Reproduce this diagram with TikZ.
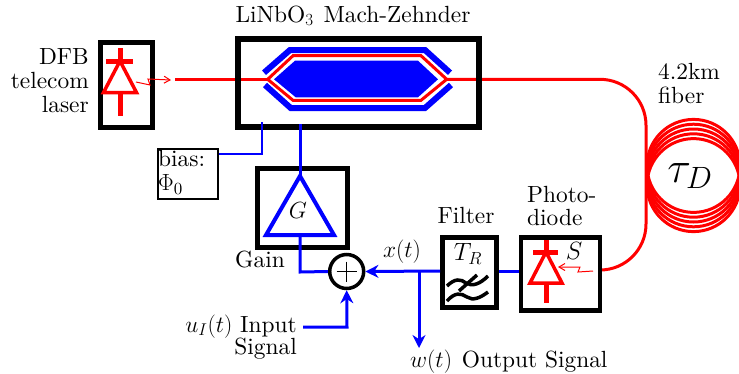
\RequirePackage{fix-cm}
\documentclass[tikz,border=0pt]{standalone}
\usepackage{fontspec}
\setmainfont{lmroman10-regular.otf}
\DeclareMathSizes{23.4}{23.4}{17}{13}
\usetikzlibrary{arrows.meta}
\tikzset{
  boxk/.style={draw=black,line width=4.5pt,fill=none},
  rl/.style={draw=red,line width=3pt},
  bl/.style={draw=blue,line width=3pt},
  lab/.style={inner sep=0pt,font=\fontsize{23.4}{24}\selectfont},
  squig/.style={draw=red,line width=1pt,-{Straight Barb[length=6pt,width=7pt]}},
  blarrow/.style={bl,-{Stealth[length=13pt,width=13pt]}},
}
\begin{document}
\begin{tikzpicture}[x=1pt,y=-1pt]
\useasboundingbox (0,0) rectangle (739,373);
% coil
\foreach \d in {-9.6,-4.8,0,4.8,9.6}{\draw[red,line width=3pt] (693.5,175.5+\d) circle[radius=46.5];}
% fibre
\coordinate (laserout) at (175,79.3);
\coordinate (mzin) at (267.7,79.3);
\coordinate (mzout) at (446.7,79.3);
\coordinate (pdin) at (599,270);
\draw[rl] (laserout) -- (mzin);
\draw[rl] (mzout) -- (600,79.3) arc[start angle=-90,end angle=0,radius=46] -- (646,224) arc[start angle=0,end angle=90,radius=46] -- (pdin);
% Mach-Zehnder
\node[boxk,line width=6pt,minimum width=241pt,minimum height=88.5pt,anchor=north west,inner sep=0pt] (mz) at (234.5,35.5) {};
\fill[blue] (274,79.3) -- (295,60.7) -- (418,60.7) -- (438,79.3) -- (418,97.3) -- (295.7,97.3) -- cycle;
\draw[draw=blue,line width=6pt] (264,72.7) -- (290,50) -- (425,50) -- (450,72.7);
\draw[draw=blue,line width=6pt] (265,85) -- (290.7,108) -- (425,108) -- (451,85);
\draw[rl] (mzin) -- (293,55.7) -- (421,55.7) -- (mzout) -- (421,100.3) -- (293,100.3) -- cycle;
% laser
\node[boxk,line width=5pt,minimum width=52.5pt,minimum height=84.5pt,anchor=north west,inner sep=0pt] (laser) at (97.5,40) {};
\draw[rl,line width=5pt] (120,48) -- (120,61) (106,61) -- (133,61);
\draw[rl,line width=3.5pt,line join=miter] (120,61) -- (136.5,92.5) -- (103.5,92.5) -- cycle;
\draw[rl,line width=5pt] (120,93) -- (120,116);
\draw[squig] (136,82) -- (150,85) -- (148,79) -- (171,80);
% gain
\node[boxk,minimum width=89.7pt,minimum height=79pt,anchor=north west,inner sep=0pt] (gain) at (255.3,166) {};
\node[lab] (gainsym) at (298,210) {$G$};
\coordinate (gaintop) at (300,176);
\coordinate (gainbot) at (300,235);
\draw[draw=blue,line width=4pt] (gaintop) -- (334,235) -- (266,235) -- cycle;
% sum
\node[circle,draw=black,line width=3.5pt,minimum size=34pt,inner sep=0pt] (sum) at (346.7,271.5) {};
\draw[black,line width=1pt] (sum.center) ++(-10,0) -- ++(20,0) (sum.center) ++(0,-10) -- ++(0,20);
\draw[bl] (300,124) -- (gaintop);
\draw[bl] (gainbot) -- (300,272) -- (sum.west);
% bias
\node[draw=black,line width=2pt,minimum width=60pt,minimum height=50pt,anchor=north west,inner sep=0pt] (bias) at (157,147.5) {};
\node[lab,anchor=west,align=left] (biastext) at (158,172.5) {bias:\\$\Phi_{\mathrm{0}}$};
\draw[draw=blue,line width=2pt] (bias.east |- 0,154) -- (262,154) -- (262,122);
% filter
\node[boxk,minimum width=54pt,minimum height=70pt,anchor=north west,inner sep=0pt] (filter) at (440,235) {};
\node[inner sep=0pt,font=\fontsize{25}{28}\selectfont] (tr) at (468,254) {$T_R$};
\draw[black,line width=3.5pt] (447,286) .. controls (455,278) and (461,279) .. (466,283) .. controls (472,287) and (480,284) .. (488,276);
\draw[black,line width=3.5pt] (447,301) .. controls (455,292) and (461,293) .. (467,297) .. controls (473,301) and (480,298) .. (488,292);
\draw[black,line width=3.5pt] (459,291) -- (477,275);
% photodiode
\node[boxk,minimum width=79pt,minimum height=73pt,anchor=north west,inner sep=0pt] (pd) at (518.5,235) {};
\draw[rl,line width=5pt] (546,240) -- (546,252) (533,252) -- (558,252);
\draw[rl,line width=3.5pt] (546,252) -- (562,283) -- (530,283) -- cycle;
\draw[rl,line width=5pt] (546,283) -- (546,303);
\draw[squig] (593,271) -- (578,272) -- (580,267) -- (558,267);
\node[inner sep=0pt,font=\fontsize{25}{28}\selectfont] (s) at (574,251) {$S$};
% signal lines
\draw[bl] (filter.east |- 0,271) -- (pd.west |- 0,271);
\draw[blarrow] (filter.west |- 0,271) -- (sum.east);
\coordinate (branch) at (419,271);
\draw[blarrow] (branch) -- (419,348);
\coordinate (uin) at (303,327);
\draw[blarrow] (uin) -- (347,327) -- (sum.south);
% labels
\node[lab,align=right,anchor=east] (l1) at (89,81) {DFB\\telecom\\laser};
\node[lab,anchor=south] (l2) at (353,26) {LiNbO$_3$\hspace{2pt} Mach-Zehnder};
\node[lab,anchor=base] (l3) at (260,267) {Gain};
\node[lab,anchor=base] (l4) at (466,223) {Filter};
\node[lab,anchor=base west] (l5) at (527,202) {Photo-};
\node[lab,anchor=base west] (l6) at (527,225) {diode};
\node[lab,anchor=base] (l7) at (402,257) {$x(t)$};
\node[lab,anchor=base east] (l8) at (297,332) {$u_I(t)$ Input};
\node[lab,anchor=base east] (l9) at (297,354) {Signal};
\node[lab,anchor=base west] (l10) at (410,367) {$w(t)$\hspace{2pt} Output Signal};
\node[lab,anchor=base west] (l11) at (658,79) {4.2km};
\node[lab,anchor=base west] (l12) at (658,103) {fiber};
\node[inner sep=0pt,font=\fontsize{44}{48}\selectfont] (tau) at (690,176) {$\tau_D$};
\end{tikzpicture}
\end{document}
